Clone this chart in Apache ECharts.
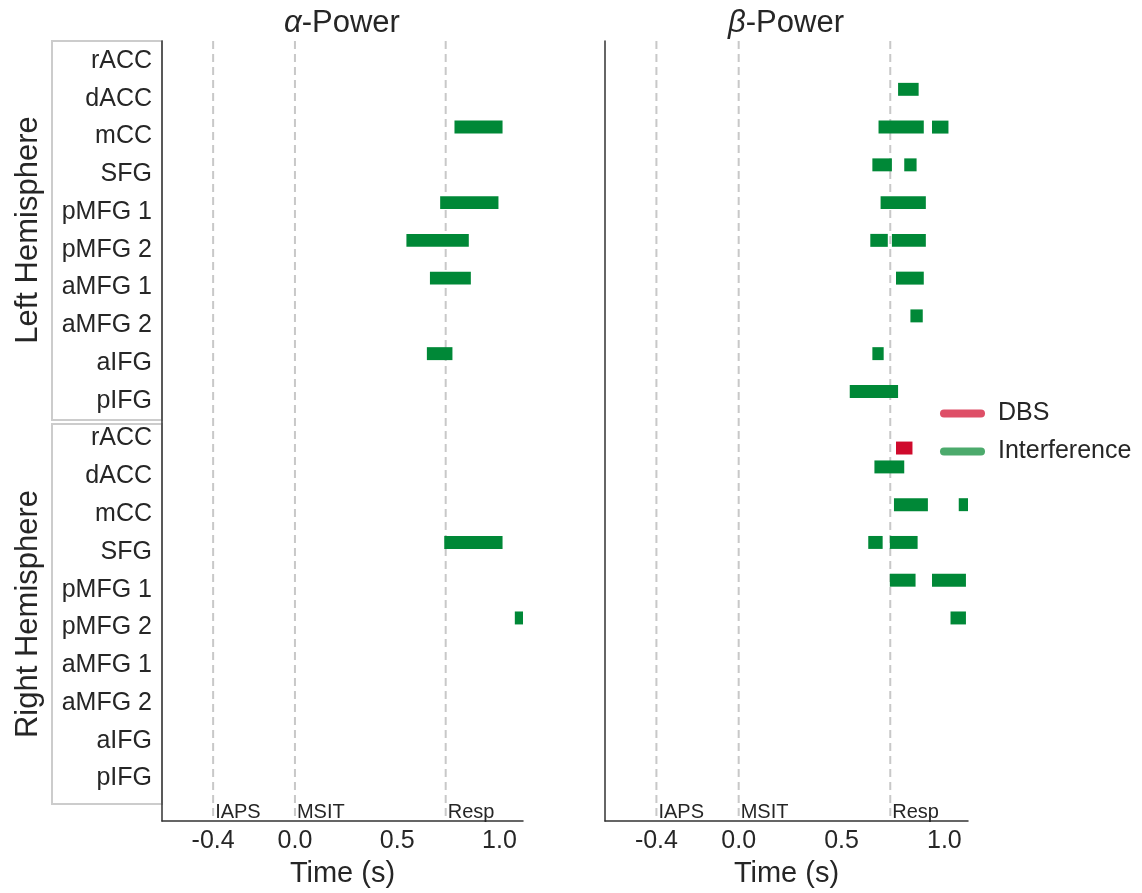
<!DOCTYPE html>
<html><head><meta charset="utf-8">
<script src="https://cdn.jsdelivr.net/npm/echarts@6/dist/echarts.min.js"></script>
<style>html,body{margin:0;padding:0;background:#fff}#c{width:1142px;height:893px}</style>
</head><body><div id="c"></div>
<script>
// ---- data ----
const regions = ['rACC','dACC','mCC','SFG','pMFG 1','pMFG 2','aMFG 1','aMFG 2','aIFG','pIFG'];
const rowLabels = regions.concat(regions); // rows 0-9 left hemisphere, 10-19 right hemisphere
const hemispheres = ['Left Hemisphere','Right Hemisphere'];
const panelGreek = ['α','β'];
const xTicks = [-0.4, 0.0, 0.5, 1.0];
const eventNames = ['IAPS','MSIT','Resp'];
const eventTimes = [-0.4, 0.0, 0.737];
// [row, start (s), end (s)]
const alphaInterference = [
  [2, 0.78, 1.015], [4, 0.71, 0.995], [5, 0.545, 0.85], [6, 0.66, 0.86], [8, 0.645, 0.77],
  [13, 0.73, 1.015], [15, 1.075, 1.115]
];
const alphaDBS = [];
const betaInterference = [
  [1, 0.775, 0.875],
  [2, 0.68, 0.90], [2, 0.94, 1.02],
  [3, 0.65, 0.745], [3, 0.805, 0.865],
  [4, 0.69, 0.91],
  [5, 0.64, 0.725], [5, 0.745, 0.91],
  [6, 0.765, 0.90],
  [7, 0.835, 0.895],
  [8, 0.65, 0.705],
  [9, 0.54, 0.775],
  [11, 0.66, 0.805],
  [12, 0.755, 0.92], [12, 1.07, 1.12],
  [13, 0.63, 0.70], [13, 0.735, 0.87],
  [14, 0.735, 0.86], [14, 0.94, 1.105],
  [15, 1.03, 1.105]
];
const betaDBS = [[10, 0.765, 0.845]];

// ---- styling ----
const FONT = '"Liberation Sans", Arial, sans-serif';
const TXT = '#262626';
const GREEN = '#008837', RED = '#cf0a2c';
const X_MIN = -0.65, X_MAX = 1.115, Y_MIN = -0.53, Y_MAX = 20.13;

function barRenderer(offset, color) {
  return function (params, api) {
    const r = api.value(0), s = api.value(1), e = api.value(2);
    const a = api.coord([s, r + offset]);
    const b = api.coord([e, r + offset]);
    const h = Math.abs(api.size([0, 0.343])[1]);
    return {type: 'rect', shape: {x: a[0], y: a[1] - h / 2, width: b[0] - a[0], height: h},
      style: {fill: color}};
  };
}
function eventRenderer(params, api) {
  const t = api.value(0);
  const top = api.coord([t, Y_MIN]);
  const bot = api.coord([t, Y_MAX]);
  return {type: 'group', children: [
    {type: 'line', shape: {x1: top[0], y1: top[1], x2: bot[0], y2: bot[1]},
      style: {stroke: '#c8c8c8', lineWidth: 2, lineDash: [8, 5]}},
    {type: 'text', x: bot[0] + 2, y: bot[1] - 9,
      style: {text: eventNames[params.dataIndex], font: '20px ' + FONT, fill: TXT,
        textAlign: 'left', textVerticalAlign: 'middle'}}
  ]};
}

const grids = [
  {left: 162, top: 41, width: 361, height: 783},
  {left: 605, top: 41, width: 363, height: 783}
];
const xAxes = [0, 1].map(i => ({
  type: 'value', gridIndex: i, min: X_MIN, max: X_MAX, position: 'bottom',
  axisLine: {show: true, onZero: false, lineStyle: {color: '#333', width: 1.5}},
  axisTick: {show: false}, splitLine: {show: false},
  axisLabel: {customValues: xTicks, formatter: v => v.toFixed(1), fontSize: 25, color: TXT,
    fontFamily: FONT, margin: 8},
  name: 'Time (s)', nameLocation: 'middle', nameGap: 32,
  nameTextStyle: {fontSize: 29, color: TXT, fontFamily: FONT}
}));
const yAxes = [0, 1].map(i => ({
  type: 'value', gridIndex: i, inverse: true, min: Y_MIN, max: Y_MAX,
  axisLine: {show: true, onZero: false, lineStyle: {color: '#333', width: 1.5}},
  axisTick: {show: false}, splitLine: {show: false},
  axisLabel: i === 0 ? {customValues: rowLabels.map((_, k) => k), formatter: v => rowLabels[v],
    fontSize: 25, color: TXT, fontFamily: FONT, margin: 10} : {show: false}
}));

function barSeries(name, data, idx, offset, color) {
  return {type: 'custom', name: name, xAxisIndex: idx, yAxisIndex: idx, data: data,
    encode: {x: [1, 2], y: 0}, renderItem: barRenderer(offset, color), clip: true, z: 3,
    itemStyle: {color: color}};
}
function eventSeries(idx) {
  return {type: 'custom', name: 'events', xAxisIndex: idx, yAxisIndex: idx,
    data: eventTimes.map(t => [t, 0]), encode: {x: 0, y: 1}, renderItem: eventRenderer,
    z: 1, silent: true};
}

const option = {
  animation: false,
  backgroundColor: '#fff',
  textStyle: {fontFamily: FONT},
  grid: grids, xAxis: xAxes, yAxis: yAxes,
  legend: {
    orient: 'vertical', left: 935, top: 396, itemWidth: 45, itemHeight: 8, itemGap: 13,
    icon: 'path://M4,0 L41,0 A4,4 0 0 1 41,8 L4,8 A4,4 0 0 1 4,0 Z', selectedMode: false,
    textStyle: {fontSize: 25, color: TXT, fontFamily: FONT, padding: [0, 0, 0, 8]},
    data: [{name: 'DBS', itemStyle: {color: '#de4f67'}},
           {name: 'Interference', itemStyle: {color: '#4caa6c'}}]
  },
  series: [
    eventSeries(0), eventSeries(1),
    barSeries('Interference', alphaInterference, 0, -0.25, GREEN),
    barSeries('DBS', alphaDBS, 0, 0.25, RED),
    barSeries('Interference', betaInterference, 1, -0.25, GREEN),
    barSeries('DBS', betaDBS, 1, 0.25, RED)
  ],
  graphic: [
    {type: 'text', x: 342, y: 23, style: {text: '{g|' + panelGreek[0] + '}-Power',
      font: '31px ' + FONT, fill: TXT, textAlign: 'center', textVerticalAlign: 'middle',
      rich: {g: {fontStyle: 'italic', fontSize: 31, fontFamily: FONT, fill: TXT}}}},
    {type: 'text', x: 786, y: 23, style: {text: '{g|' + panelGreek[1] + '}-Power',
      font: '31px ' + FONT, fill: TXT, textAlign: 'center', textVerticalAlign: 'middle',
      rich: {g: {fontStyle: 'italic', fontSize: 31, fontFamily: FONT, fill: TXT}}}},
    {type: 'text', x: 28, y: 230, rotation: Math.PI / 2, style: {text: hemispheres[0],
      font: '31px ' + FONT, fill: TXT, textAlign: 'center', textVerticalAlign: 'middle'}},
    {type: 'text', x: 28, y: 614, rotation: Math.PI / 2, style: {text: hemispheres[1],
      font: '31px ' + FONT, fill: TXT, textAlign: 'center', textVerticalAlign: 'middle'}},
    {type: 'rect', shape: {x: 52, y: 41, width: 110, height: 379},
      style: {fill: 'none', stroke: '#cccccc', lineWidth: 2}, z: -1},
    {type: 'rect', shape: {x: 52, y: 424, width: 110, height: 380},
      style: {fill: 'none', stroke: '#cccccc', lineWidth: 2}, z: -1}
  ]
};
const chart = echarts.init(document.getElementById('c'), null, {renderer: 'canvas'});
chart.setOption(option);
</script>
</body></html>
